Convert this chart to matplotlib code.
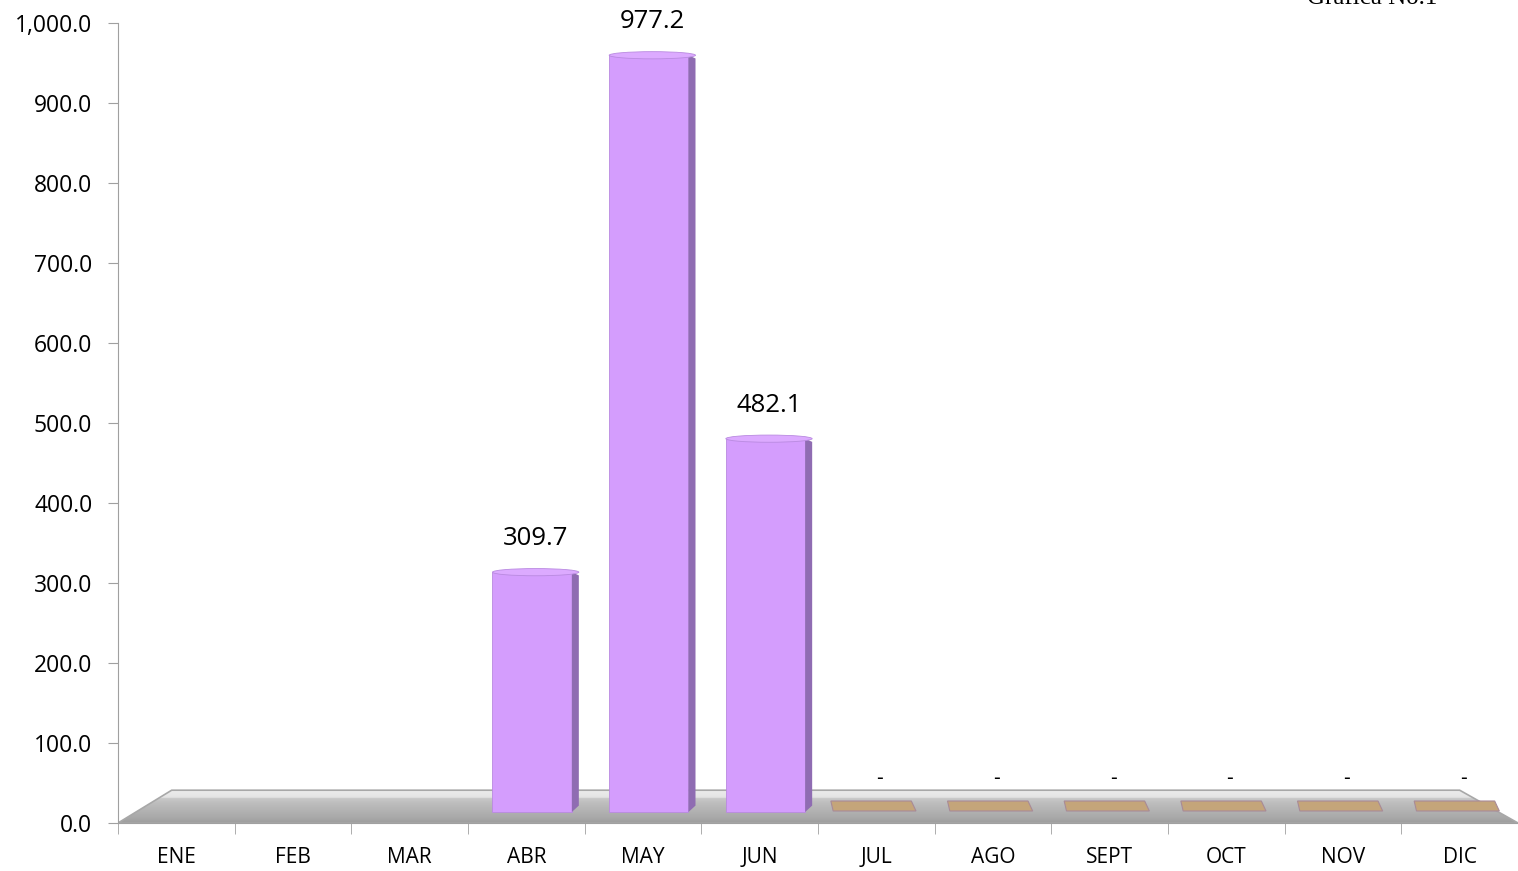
import matplotlib.pyplot as plt
import numpy as np
from matplotlib.colors import LinearSegmentedColormap
from matplotlib.patches import Polygon, Ellipse
from matplotlib.ticker import FuncFormatter

months = ["ENE", "FEB", "MAR", "ABR", "MAY", "JUN", "JUL", "AGO", "SEPT", "OCT", "NOV", "DIC"]
values = [np.nan, np.nan, np.nan, 309.7, 977.2, 482.1, 0, 0, 0, 0, 0, 0]

fig = plt.figure(figsize=(15.18, 8.71), dpi=100)
ax = fig.add_axes([118 / 1518, 48 / 871, 1400 / 1518, 800 / 871])
ax.set_xlim(-0.5, 11.5)
ax.set_ylim(0, 1000)

# 3D-ish floor
floor = Polygon([(-0.5, 0), (-0.04, 41), (11.0, 41), (11.5, 0)], closed=True,
                facecolor="none", edgecolor="#a8a8a8", lw=1.2, zorder=1)
ax.add_patch(floor)
grad = np.linspace(0, 1, 200).reshape(-1, 1)
cmap = LinearSegmentedColormap.from_list(
    "fl", [(0, "#9c9c9c"), (0.15, "#a8a8a8"), (0.6, "#bdbdbd"), (0.75, "#c8c8c8"),
           (0.78, "#e4e4e4"), (1, "#ececec")])
img = ax.imshow(grad, extent=(-0.5, 11.5, 0, 41), aspect="auto", origin="lower",
                cmap=cmap, zorder=0.9)
img.set_clip_path(floor)

x = np.arange(len(months))
off, w, depth, base, persp = 0.05, 0.68, 0.06, 13.75, 0.968
front = "#d49dfd"
side = "#8f6cb2"
top = "#dcaaff"

for xi, v in zip(x, values):
    if np.isnan(v):
        continue
    if v > 0:
        h = v * persp
        ax.bar(xi + off, h, width=w, bottom=base, color=front,
               edgecolor="#b98ae0", lw=0.6, zorder=3)
        r = xi + off + w / 2
        yt = base + h
        ax.add_patch(Polygon([(r, base), (r + depth, base + 8), (r + depth, yt - 4), (r, yt)],
                             closed=True, facecolor=side, edgecolor="none", zorder=3))
        ax.add_patch(Ellipse((xi + off + depth / 2, yt), w + depth, 9, facecolor=top,
                             edgecolor="#b98ae0", lw=0.6, zorder=4))
        ax.text(xi + 0.08, yt + 42, f"{v:,.1f}", ha="center", va="center",
                fontsize=18.5, family="Open Sans", zorder=5)
    else:
        tb, tt = 15, 27.5
        ax.add_patch(Polygon([(xi - 0.37, tb), (xi + 0.34, tb), (xi + 0.30, tt), (xi - 0.39, tt)],
                             closed=True, facecolor="#c4a57a", edgecolor="#a88a98",
                             lw=0.8, zorder=2))
        ax.text(xi + 0.03, 42, "-", ha="center", va="bottom", fontsize=15,
                family="Open Sans", zorder=5)

ax.set_yticks(np.arange(0, 1001, 100))
ax.yaxis.set_major_formatter(FuncFormatter(lambda v, p: f"{v:,.1f}"))
ax.set_xticks(x)
ax.set_xticklabels(months)
ax.set_xticks(np.arange(-0.5, 11.6, 1), minor=True)
ax.tick_params(axis="x", which="major", length=0, pad=17, labelsize=15)
ax.tick_params(axis="x", which="minor", length=8, color="#a0a0a0")
ax.tick_params(axis="y", length=7, color="#a0a0a0", labelsize=16.5, pad=11.5)
for lab in ax.get_xticklabels() + ax.get_yticklabels():
    lab.set_family("Open Sans")

for s in ["top", "right"]:
    ax.spines[s].set_visible(False)
ax.spines["left"].set_color("#a0a0a0")
ax.spines["bottom"].set_color("#a0a0a0")

fig.text(1437 / 1518, 1 - 4 / 871, "Grafica No.1", ha="right", va="baseline",
         fontsize=18, family="Liberation Serif")

fig.savefig("out.png", dpi=100)
